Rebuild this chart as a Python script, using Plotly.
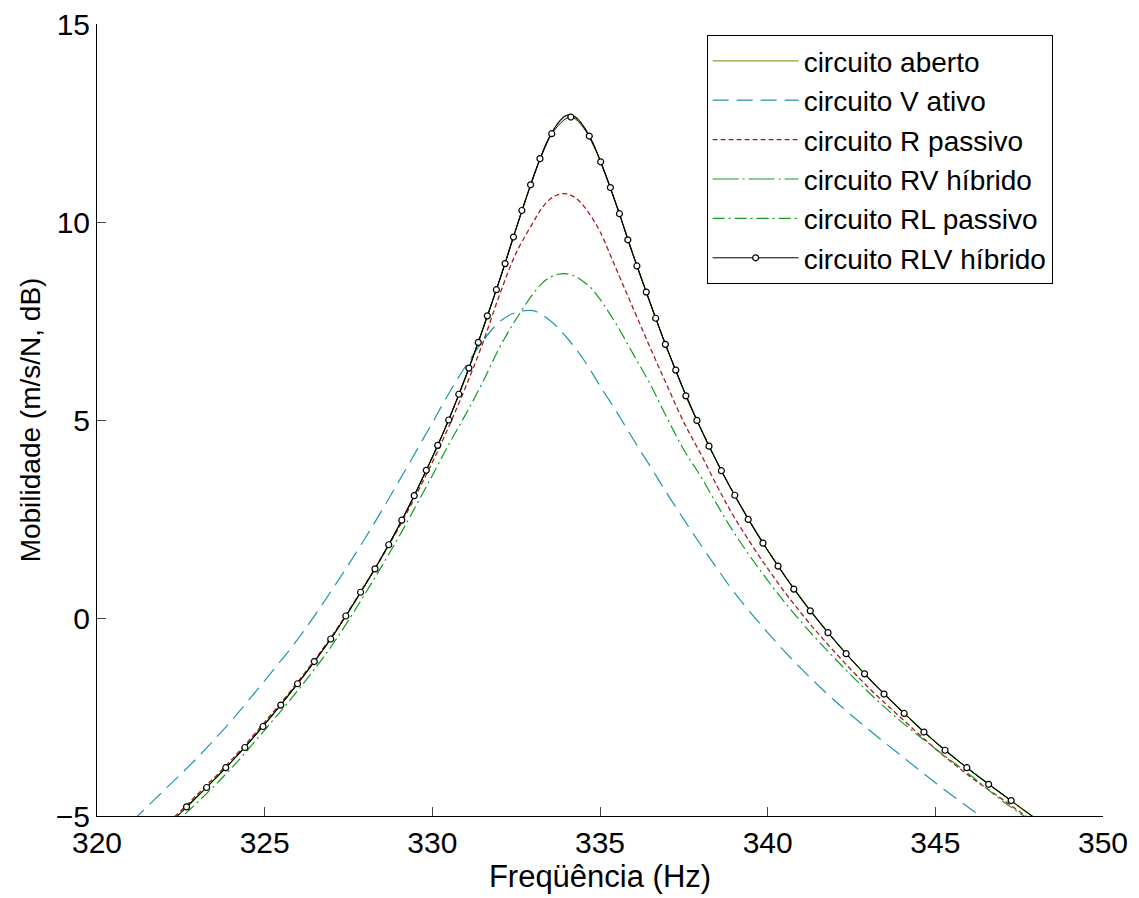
import plotly.graph_objects as go

# ---------------- data ----------------
freq = [320, 321, 322, 323, 324, 325, 326, 327, 328, 329, 330, 330.5, 331, 331.5,
        332, 332.5, 333, 333.25, 333.5, 333.75, 334, 334.25, 334.5, 334.75, 335,
        335.5, 336, 336.5, 337, 337.5, 338, 338.5, 339, 340, 341, 342, 343, 344,
        345, 346, 347, 348, 349]

circuito_aberto = [-6.55, -5.90, -5.30, -4.50, -3.64, -2.68, -1.64, -0.49, 0.84, 2.32,
                   4.06, 5.03, 6.10, 7.28, 8.52, 9.84, 11.10, 11.67, 12.15, 12.50,
                   12.69, 12.66, 12.43, 12.04, 11.56, 10.40, 9.14, 7.95, 6.80, 5.75,
                   4.79, 3.92, 3.12, 1.71, 0.49, -0.57, -1.51, -2.35, -3.13, -3.82,
                   -4.45, -5.07, -5.63]

circuito_v_ativo = [-5.95, -5.17, -4.35, -3.52, -2.60, -1.58, -0.52, 0.70, 2.02, 3.45,
                    4.93, 5.68, 6.37, 6.98, 7.48, 7.72, 7.76, 7.67, 7.52, 7.33,
                    7.09, 6.83, 6.54, 6.21, 5.86, 5.20, 4.50, 3.83, 3.14, 2.49,
                    1.85, 1.24, 0.65, -0.37, -1.28, -2.09, -2.81, -3.49, -4.16, -4.79,
                    -5.40, -5.95, -6.50]

circuito_r_passivo = [-6.45, -5.84, -5.25, -4.45, -3.59, -2.63, -1.60, -0.46, 0.85, 2.28,
                      3.93, 4.85, 5.85, 6.93, 8.15, 9.22, 9.98, 10.33, 10.57, 10.69,
                      10.71, 10.62, 10.42, 10.12, 9.76, 8.78, 7.80, 6.82, 5.87, 4.94,
                      4.15, 3.32, 2.55, 1.25, 0.12, -0.86, -1.75, -2.54, -3.30, -3.98,
                      -4.58, -5.18, -5.72]

circuito_rv_hibrido = [-6.55, -5.90, -5.30, -4.50, -3.64, -2.68, -1.64, -0.49, 0.84, 2.32,
                       4.06, 5.03, 6.10, 7.28, 8.52, 9.84, 11.10, 11.67, 12.15, 12.50,
                       12.69, 12.66, 12.43, 12.04, 11.56, 10.40, 9.14, 7.95, 6.80, 5.75,
                       4.79, 3.92, 3.12, 1.71, 0.49, -0.57, -1.51, -2.35, -3.13, -3.82,
                       -4.45, -5.07, -5.63]

circuito_rl_passivo = [-6.60, -5.95, -5.40, -4.65, -3.80, -2.83, -1.82, -0.70, 0.62, 2.05,
                       3.60, 4.40, 5.15, 5.95, 6.82, 7.55, 8.18, 8.43, 8.60, 8.68,
                       8.69, 8.63, 8.50, 8.32, 8.05, 7.40, 6.65, 5.90, 5.05, 4.25,
                       3.58, 2.85, 2.15, 0.95, -0.10, -1.02, -1.87, -2.63, -3.30, -3.94,
                       -4.62, -5.20, -5.72]

circuito_rlv_hibrido = [-6.55, -5.90, -5.30, -4.50, -3.64, -2.68, -1.64, -0.49, 0.84, 2.32,
                        4.06, 5.03, 6.10, 7.28, 8.52, 9.84, 11.10, 11.67, 12.15, 12.50,
                        12.69, 12.66, 12.43, 12.04, 11.56, 10.40, 9.14, 7.95, 6.80, 5.75,
                        4.79, 3.92, 3.12, 1.71, 0.49, -0.57, -1.51, -2.35, -3.13, -3.82,
                        -4.45, -5.07, -5.63]

# marker positions of the "circuito RLV híbrido" curve
rlv_marker_freq = [322.67, 323.27, 323.84, 324.41, 324.95, 325.48, 325.98, 326.48, 326.97,
                   327.42, 327.86, 328.29, 328.70, 329.09, 329.46, 329.82, 330.16, 330.49,
                   330.79, 331.09, 331.37, 331.64, 331.91, 332.17, 332.42, 332.67, 332.93,
                   333.21, 333.56, 334.13, 334.68, 335.02, 335.31, 335.58, 335.83, 336.10,
                   336.38, 336.66, 336.95, 337.26, 337.56, 337.89, 338.25, 338.62, 339.02,
                   339.42, 339.86, 340.31, 340.78, 341.27, 341.80, 342.34, 342.89, 343.47,
                   344.07, 344.66, 345.29, 345.94, 346.59, 347.26]
rlv_marker_db = [-4.77, -4.28, -3.78, -3.27, -2.74, -2.20, -1.66, -1.10, -0.53,
                 0.05, 0.65, 1.24, 1.85, 2.47, 3.09, 3.73, 4.36, 5.00,
                 5.65, 6.31, 6.96, 7.63, 8.29, 8.95, 9.62, 10.29, 10.94,
                 11.60, 12.23, 12.65, 12.17, 11.52, 10.87, 10.21, 9.55, 8.89,
                 8.23, 7.57, 6.91, 6.26, 5.61, 4.99, 4.34, 3.72, 3.10,
                 2.49, 1.89, 1.31, 0.73, 0.18, -0.37, -0.90, -1.41, -1.92,
                 -2.41, -2.88, -3.34, -3.78, -4.20, -4.61]

x_ticks = [320, 325, 330, 335, 340, 345, 350]
y_ticks = [-5, 0, 5, 10, 15]

FONT = "Liberation Sans, Arial, Helvetica, sans-serif"

fig = go.Figure()

fig.add_trace(go.Scatter(x=freq, y=circuito_aberto, mode="lines", name="circuito aberto",
                         line=dict(color="#9C9C3A", width=1.3, shape="spline")))
fig.add_trace(go.Scatter(x=freq, y=circuito_v_ativo, mode="lines", name="circuito V ativo",
                         line=dict(color="#1F97A8", width=1.2, dash="16px,8px", shape="spline")))
fig.add_trace(go.Scatter(x=freq, y=circuito_r_passivo, mode="lines", name="circuito R passivo",
                         line=dict(color="#A81E1E", width=1.3, dash="5px,3px", shape="spline")))
fig.add_trace(go.Scatter(x=freq, y=circuito_rv_hibrido, mode="lines", name="circuito RV híbrido",
                         line=dict(color="#119B1E", width=1.2, dash="26px,4px,2px,4px", shape="spline")))
fig.add_trace(go.Scatter(x=freq, y=circuito_rl_passivo, mode="lines", name="circuito RL passivo",
                         line=dict(color="#119B1E", width=1.2, dash="12px,4px,2px,4px", shape="spline")))
fig.add_trace(go.Scatter(x=freq, y=circuito_rlv_hibrido, mode="lines", showlegend=False,
                         legendgroup="rlv", hoverinfo="skip",
                         line=dict(color="black", width=1, shape="spline")))
fig.add_trace(go.Scatter(x=rlv_marker_freq, y=rlv_marker_db, mode="lines+markers",
                         name="circuito RLV híbrido", legendgroup="rlv",
                         line=dict(color="black", width=1, shape="spline"),
                         marker=dict(symbol="circle", size=6, color="white",
                                     line=dict(color="black", width=1.2))))

axis_common = dict(showline=True, linecolor="black", linewidth=1, mirror=False,
                   ticks="inside", ticklen=9, tickwidth=1, tickcolor="#444",
                   showgrid=False, zeroline=False, ticklabeloverflow="allow",
                   tickfont=dict(family=FONT, size=30, color="black"))

# the page body has an 8 px margin, so the figure is sized/offset to compensate
fig.update_layout(
    width=1131, height=890, autosize=False,
    margin=dict(l=89, r=36, t=16, b=82, autoexpand=False),
    paper_bgcolor="white", plot_bgcolor="white",
    font=dict(family=FONT, color="black"),
    xaxis=dict(range=[320, 350], tickvals=x_ticks,
               title=dict(text="Freqüência (Hz)", font=dict(family=FONT, size=31), standoff=4),
               **axis_common),
    yaxis=dict(range=[-5, 15], tickvals=y_ticks,
               title=dict(text="Mobilidade (m/s/N, dB)", font=dict(family=FONT, size=28), standoff=6),
               **axis_common),
    legend=dict(x=0.606, y=0.986, xanchor="left", yanchor="top",
                bgcolor="white", bordercolor="black", borderwidth=1,
                font=dict(family=FONT, size=28, color="black"),
                itemwidth=86, tracegroupgap=0),
    showlegend=True,
)

fig.write_html("out.html")
